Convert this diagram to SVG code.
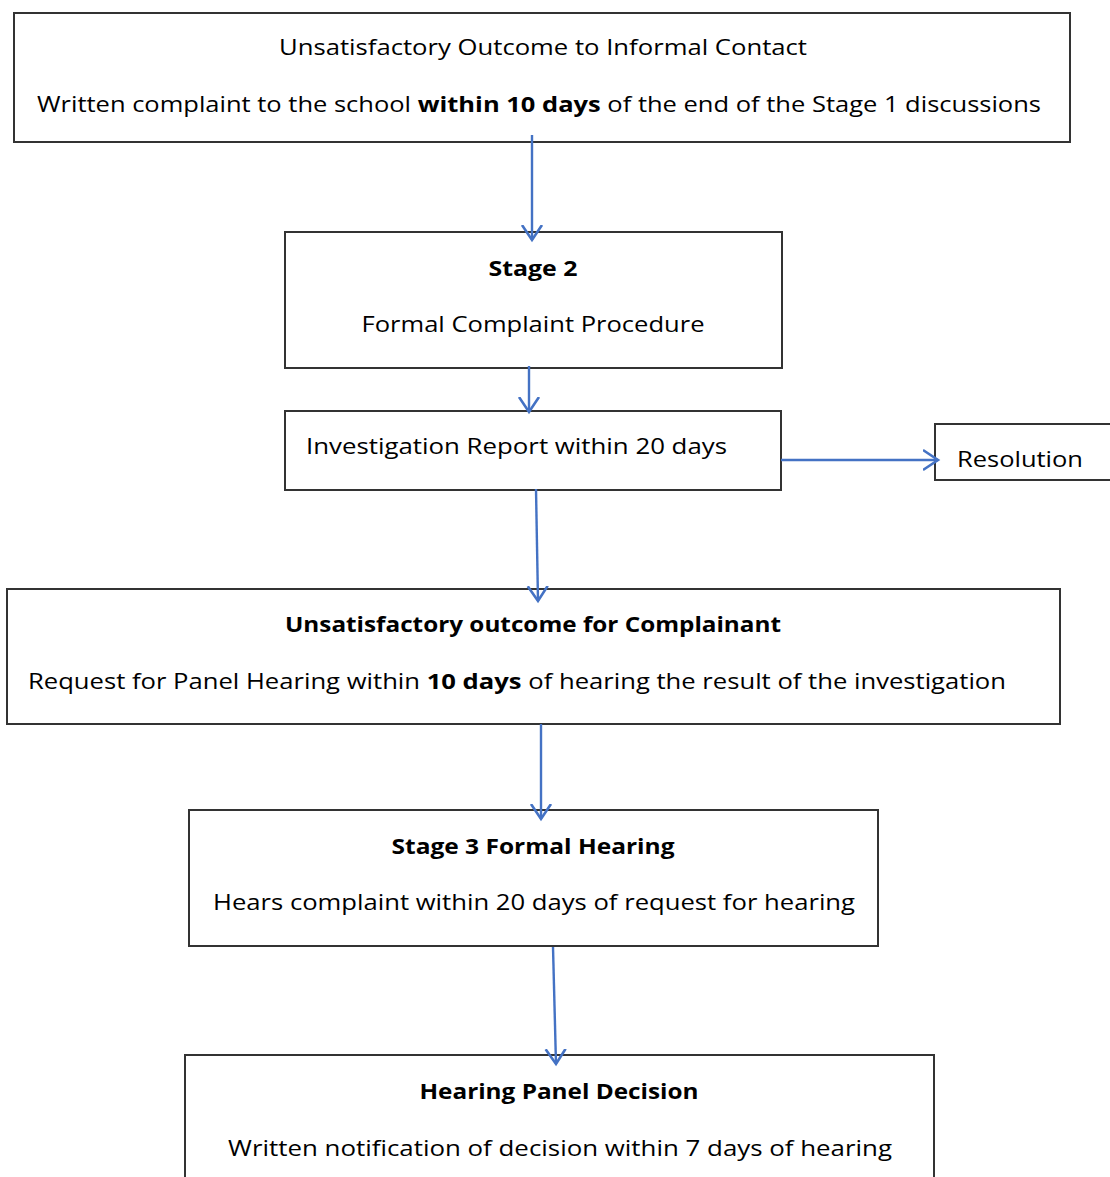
<svg xmlns="http://www.w3.org/2000/svg" width="1110" height="1177" viewBox="0 0 1110 1177">
<style>
.box{fill:#fff;stroke:#333;stroke-width:2}
.t{font-family:"Open Sans","Liberation Sans",sans-serif;font-size:21px;fill:#000}
.c{text-anchor:middle}
.b{font-weight:bold}
.conn{stroke:#4472C4;stroke-width:2.4;fill:none}
</style>
<defs>
<marker id="ah" markerUnits="userSpaceOnUse" markerWidth="30" markerHeight="30" viewBox="-15 -15 30 30" refX="0" refY="0" orient="auto">
<path d="M -15 -10 L 0 0 L -15 10" fill="none" stroke="#4472C4" stroke-width="2.6"/>
</marker>
</defs>
<rect width="1110" height="1177" fill="#fff"/>
<g id="node1">
<rect class="box" x="14" y="13" width="1056" height="129"/>
<text class="t c" x="543" y="55" textLength="528" lengthAdjust="spacingAndGlyphs">Unsatisfactory Outcome to Informal Contact</text>
<text class="t" x="37" y="112" textLength="1004" lengthAdjust="spacingAndGlyphs">Written complaint to the school <tspan class="b">within 10 days</tspan> of the end of the Stage 1 discussions</text>
</g>
<g id="node2">
<rect class="box" x="285" y="232" width="497" height="136"/>
<text class="t c b" x="533" y="276" textLength="89" lengthAdjust="spacingAndGlyphs">Stage 2</text>
<text class="t c" x="533" y="332" textLength="343" lengthAdjust="spacingAndGlyphs">Formal Complaint Procedure</text>
</g>
<g id="node3">
<rect class="box" x="285" y="411" width="496" height="79"/>
<text class="t" x="306" y="454" textLength="421" lengthAdjust="spacingAndGlyphs">Investigation Report within 20 days</text>
</g>
<g id="node4">
<rect class="box" x="935" y="424" width="180" height="56"/>
<text class="t" x="957" y="467" textLength="126" lengthAdjust="spacingAndGlyphs">Resolution</text>
</g>
<g id="node5">
<rect class="box" x="7" y="589" width="1053" height="135"/>
<text class="t c b" x="533" y="632" textLength="496" lengthAdjust="spacingAndGlyphs">Unsatisfactory outcome for Complainant</text>
<text class="t" x="28" y="689" textLength="978" lengthAdjust="spacingAndGlyphs">Request for Panel Hearing within <tspan class="b">10 days</tspan> of hearing the result of the investigation</text>
</g>
<g id="node6">
<rect class="box" x="189" y="810" width="689" height="136"/>
<text class="t c b" x="533" y="854" textLength="283" lengthAdjust="spacingAndGlyphs">Stage 3 Formal Hearing</text>
<text class="t" x="213" y="910" textLength="642" lengthAdjust="spacingAndGlyphs">Hears complaint within 20 days of request for hearing</text>
</g>
<g id="node7">
<rect class="box" x="185" y="1055" width="749" height="140"/>
<text class="t c b" x="559" y="1099" textLength="279" lengthAdjust="spacingAndGlyphs">Hearing Panel Decision</text>
<text class="t" x="228" y="1156" textLength="664" lengthAdjust="spacingAndGlyphs">Written notification of decision within 7 days of hearing</text>
</g>
<g id="connectors">
<line class="conn" x1="532" y1="135" x2="532" y2="240" marker-end="url(#ah)"/>
<line class="conn" x1="529" y1="366" x2="529" y2="412" marker-end="url(#ah)"/>
<line class="conn" x1="781" y1="460" x2="938" y2="460" marker-end="url(#ah)"/>
<line class="conn" x1="536" y1="489" x2="538" y2="601" marker-end="url(#ah)"/>
<line class="conn" x1="541" y1="724" x2="541" y2="819" marker-end="url(#ah)"/>
<line class="conn" x1="553" y1="947" x2="556" y2="1064" marker-end="url(#ah)"/>
</g>
</svg>
